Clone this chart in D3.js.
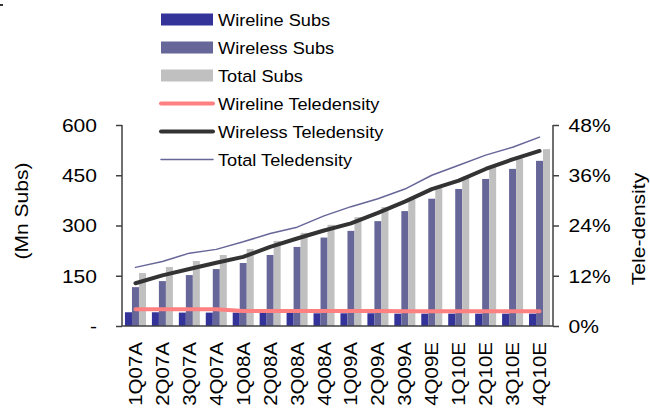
<!DOCTYPE html>
<meta charset="utf-8">
<style>
  body { margin: 0; background: #fff; }
  svg text { font-family: "Liberation Sans", Arial, sans-serif; fill: #000; }
</style>
<script src="https://d3js.org/d3.v7.min.js"></script>
<div id="chart"></div>
<script>

// data
var quarters = ["1Q07A","2Q07A","3Q07A","4Q07A","1Q08A","2Q08A","3Q08A","4Q08A",
                "1Q09A","2Q09A","3Q09A","4Q09E","1Q10E","2Q10E","3Q10E","4Q10E"];
var wirelineSubs = [41, 41, 40, 40, 40, 39, 39, 38, 38, 38, 37, 37, 37, 37, 37, 37];
var wirelessSubs = [116, 134, 152, 170, 188, 212, 236, 264, 284, 313, 343, 380, 409, 439, 469, 493];
var totalSubs    = [158, 176, 194, 212, 230, 254, 278, 302, 325, 355, 380, 416, 446, 475, 500, 528];
var wirelineTele = [4.0, 4.0, 4.0, 4.0, 3.6, 3.6, 3.6, 3.6, 3.6, 3.6, 3.5, 3.5, 3.5, 3.5, 3.5, 3.5];
var wirelessTele = [10.2, 12.1, 13.6, 15.1, 16.5, 18.9, 20.9, 22.8, 24.5, 27.0, 29.7, 32.7, 34.7, 37.5, 39.8, 41.8];
var totalTele    = [14.0, 15.4, 17.4, 18.3, 20.1, 22.1, 23.6, 26.3, 28.5, 30.4, 32.7, 36.0, 38.4, 40.8, 42.7, 45.1];
var leftTicks  = [0, 150, 300, 450, 600];
var rightTicks = [0, 12, 24, 36, 48];

var barSeries = [
  {name: "Wireline Subs", values: wirelineSubs, color: "#333399"},
  {name: "Wireless Subs", values: wirelessSubs, color: "#666699"},
  {name: "Total Subs",    values: totalSubs,    color: "#c0c0c0"}
];
var lineSeries = [
  {name: "Wireline Teledensity", values: wirelineTele, color: "#ff8080", width: 4},
  {name: "Wireless Teledensity", values: wirelessTele, color: "#333333", width: 4},
  {name: "Total Teledensity",    values: totalTele,    color: "#666699", width: 1.5}
];

var W = 650, H = 410;
var pLeft = 122, pRight = 553, pTop = 125, pBottom = 326;
var axisColor = "#404040";

var svg = d3.select("#chart").append("svg")
  .attr("width", W)
  .attr("height", H);

// scales
var x0 = d3.scaleBand()
  .domain(quarters)
  .range([pLeft, pRight])
  .paddingInner(0.22)
  .paddingOuter(0.11);

var x1 = d3.scaleBand()
  .domain(barSeries.map(function(s){ return s.name; }))
  .range([0, x0.bandwidth()]);

var yL = d3.scaleLinear().domain([0, 600]).range([pBottom, pTop]);
var yR = d3.scaleLinear().domain([0, 48]).range([pBottom, pTop]);

// bars
barSeries.forEach(function(s) {
  svg.append("g")
    .selectAll("rect")
    .data(s.values)
    .enter().append("rect")
      .attr("x", function(d, i){ return x0(quarters[i]) + x1(s.name); })
      .attr("y", function(d){ return yL(d); })
      .attr("width", x1.bandwidth())
      .attr("height", function(d){ return yL(0) - yL(d); })
      .attr("fill", s.color);
});

// teledensity lines
lineSeries.forEach(function(s) {
  var line = d3.line()
    .x(function(d, i){ return x0(quarters[i]) + x0.bandwidth() / 2; })
    .y(function(d){ return yR(d); });
  svg.append("path")
    .datum(s.values)
    .attr("d", line)
    .attr("fill", "none")
    .attr("stroke", s.color)
    .attr("stroke-width", s.width)
    .attr("stroke-linejoin", "round")
    .attr("stroke-linecap", "round");
});

// text is a bit wider than plain Arial in the reference
var k = 1.17;

// left axis
var gL = svg.append("g")
  .attr("transform", "translate(" + pLeft + ",0)")
  .call(d3.axisLeft(yL).tickValues(leftTicks).tickSize(6)
    .tickFormat(function(d){ return d === 0 ? "-" : d; }));
gL.select(".domain").remove();
gL.append("line").attr("y1", pTop).attr("y2", pBottom)
  .attr("stroke", axisColor).attr("stroke-width", 1.5);
gL.selectAll(".tick line").attr("stroke", axisColor).attr("stroke-width", 1.5);
gL.selectAll(".tick text")
  .attr("x", -25 / k)
  .attr("dy", "0.36em")
  .attr("transform", "scale(" + k + ",1)")
  .style("font-size", "18px")
  .attr("font-family", null);

// right axis
var gR = svg.append("g")
  .attr("transform", "translate(" + pRight + ",0)")
  .call(d3.axisRight(yR).tickValues(rightTicks).tickSize(6)
    .tickFormat(function(d){ return d + "%"; }));
gR.select(".domain").remove();
gR.append("line").attr("y1", pTop).attr("y2", pBottom)
  .attr("stroke", axisColor).attr("stroke-width", 1.5);
gR.selectAll(".tick line").attr("stroke", axisColor).attr("stroke-width", 1.5);
gR.selectAll(".tick text")
  .attr("x", 15.5 / k)
  .attr("dy", "0.36em")
  .attr("transform", "scale(" + k + ",1)")
  .style("font-size", "18px")
  .attr("font-family", null);

// category axis
var gB = svg.append("g")
  .attr("transform", "translate(0," + pBottom + ")")
  .call(d3.axisBottom(x0).tickSize(0));
gB.select(".domain")
  .attr("d", "M" + pLeft + ",0H" + pRight)
  .attr("stroke", axisColor).attr("stroke-width", 1.5);
gB.selectAll(".tick text")
  .attr("x", 0)
  .attr("y", 0)
  .attr("dy", "0.36em")
  .attr("text-anchor", "end")
  .attr("transform", "rotate(-90) translate(-16,0) scale(1.14,1)")
  .style("font-size", "18px")
  .attr("font-family", null);

// axis titles
svg.append("text")
  .attr("transform", "translate(28,211) rotate(-90) scale(" + k + ",1)")
  .attr("text-anchor", "middle")
  .style("font-size", "18px")
  .text("(Mn Subs)");

svg.append("text")
  .attr("transform", "translate(645,229) rotate(-90) scale(" + k + ",1)")
  .attr("text-anchor", "middle")
  .style("font-size", "18px")
  .text("Tele-density");

// legend
var legendItems = barSeries.map(function(s){ return {name: s.name, color: s.color, type: "bar"}; })
  .concat(lineSeries.map(function(s){ return {name: s.name, color: s.color, type: "line", width: s.width}; }));

var leg = svg.append("g");
legendItems.forEach(function(d, i) {
  var cy = 19.5 + i * 28;
  if (d.type === "bar") {
    leg.append("rect")
      .attr("x", 161).attr("y", cy - 6)
      .attr("width", 52).attr("height", 12)
      .attr("fill", d.color);
  } else {
    leg.append("line")
      .attr("x1", 161).attr("x2", 213)
      .attr("y1", cy).attr("y2", cy)
      .attr("stroke", d.color)
      .attr("stroke-width", d.width)
      .attr("stroke-linecap", "round");
  }
  leg.append("text")
    .attr("transform", "translate(218," + (cy + 6.5) + ") scale(1.07,1)")
    .style("font-size", "17px")
    .text(d.name);
});

// small mark in the top-left corner
svg.append("line")
  .attr("x1", 0).attr("x2", 3)
  .attr("y1", 5).attr("y2", 5)
  .attr("stroke", "#333").attr("stroke-width", 2);

</script>
